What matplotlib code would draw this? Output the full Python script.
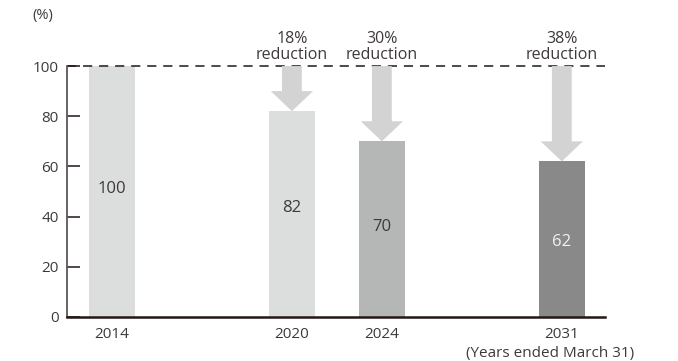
import matplotlib.pyplot as plt

# données : émissions en % de l'année de référence
annees = ['2014', '2020', '2024', '2031']
positions = [0, 2, 3, 5]
valeurs = [100, 82, 70, 62]
reductions = ['', '18%\nreduction', '30%\nreduction', '38%\nreduction']
couleurs = ['#dcdddd', '#dcdddd', '#b5b6b6', '#898989']
couleurs_texte = ['#3e3a39', '#3e3a39', '#3e3a39', '#f2f2f2']
hauteur_etiquette = [51, 43.5, 36, 30]

gris_texte = '#3e3a39'
plt.rcParams['font.family'] = ['Open Sans', 'DejaVu Sans']

fig = plt.figure(figsize=(6.78, 3.61), dpi=100)
ax = fig.add_axes([0.0988, 0.122, 0.7935, 0.695])

ax.bar(positions, valeurs, width=0.51, color=couleurs, zorder=1)

# ligne de référence à 100
ax.axhline(100, color='#231815', lw=1.1, ls=(0, (6, 4.5)), zorder=2, clip_on=False)

# flèches de réduction + textes
for x, v, txt in zip(positions, valeurs, reductions):
    if txt == '':
        continue
    ax.arrow(x, 100, 0, v - 100, width=0.22, head_width=0.47, head_length=8,
             length_includes_head=True, color='#d3d3d3', lw=0, zorder=3, clip_on=False)
    ax.text(x, 103, txt, ha='center', va='baseline', fontsize=11.5,
            color=gris_texte, linespacing=0.95, clip_on=False)

# valeurs dans les barres
for x, y, v, c in zip(positions, hauteur_etiquette, valeurs, couleurs_texte):
    ax.text(x, y, str(v), ha='center', va='center', fontsize=12, color=c, zorder=4)

ax.set_xlim(-0.5, 5.48)
ax.set_ylim(0, 100)
ax.set_yticks([0, 20, 40, 60, 80, 100])
ax.set_xticks(positions)
ax.set_xticklabels(annees)

ax.spines['top'].set_visible(False)
ax.spines['right'].set_visible(False)
ax.spines['left'].set_color('#595757')
ax.spines['left'].set_linewidth(1.3)
ax.spines['bottom'].set_color('#231815')
ax.spines['bottom'].set_linewidth(1.8)
ax.spines['bottom'].set_zorder(5)

ax.tick_params(axis='y', direction='in', length=9.5, width=1.1, color='#231815',
               labelsize=11, labelcolor=gris_texte, pad=6)
ax.tick_params(axis='x', length=0, labelsize=11, labelcolor=gris_texte, pad=7)

fig.text(43 / 678, 1 - 16 / 361, '(%)', ha='center', va='center', fontsize=10.5, color=gris_texte)
fig.text(550 / 678, 1 - 353 / 361, '(Years ended March 31)', ha='center', va='center',
         fontsize=11, color=gris_texte)

fig.savefig('out.png', dpi=100)
